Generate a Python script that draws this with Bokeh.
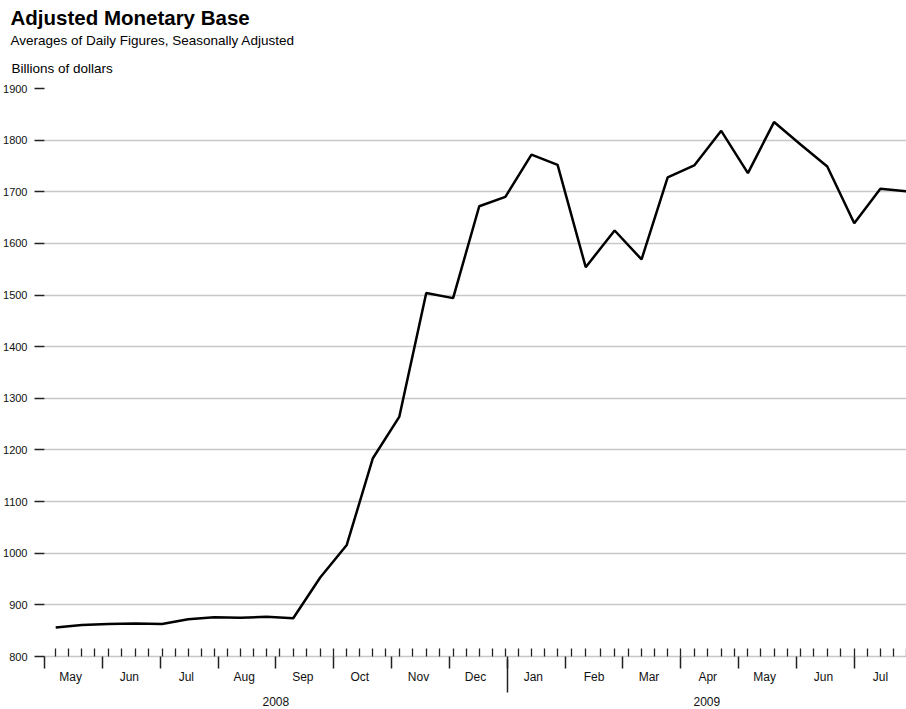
import calendar
import pandas as pd
from bokeh.plotting import figure
from bokeh.models import Range1d, FixedTicker, LinearAxis, Title
from bokeh.embed import file_html
from bokeh.resources import INLINE

# ---- data ----
dates = ["2008-05-07", "2008-05-21", "2008-06-04", "2008-06-18", "2008-07-02",
         "2008-07-16", "2008-07-30", "2008-08-13", "2008-08-27", "2008-09-10",
         "2008-09-24", "2008-10-08", "2008-10-22", "2008-11-05", "2008-11-19",
         "2008-12-03", "2008-12-17", "2008-12-31", "2009-01-14", "2009-01-28",
         "2009-02-11", "2009-02-25", "2009-03-11", "2009-03-25", "2009-04-08",
         "2009-04-22", "2009-05-06", "2009-05-20", "2009-06-03", "2009-06-17",
         "2009-07-01", "2009-07-15", "2009-07-29"]
values = [856, 861, 863, 864, 863,
          872, 876, 875, 877, 874,
          953, 1016, 1184, 1264, 1504,
          1494, 1672, 1690, 1772, 1752,
          1554, 1625, 1569, 1728, 1751,
          1818, 1736, 1835, 1792, 1749,
          1639, 1706, 1701]
y_ticks = [800, 900, 1000, 1100, 1200, 1300, 1400, 1500, 1600, 1700, 1800, 1900]
month_labels = ["May", "Jun", "Jul", "Aug", "Sep", "Oct", "Nov", "Dec",
                "Jan", "Feb", "Mar", "Apr", "May", "Jun", "Jul"]
year_labels = ["2008", "2009"]
range_start = "2008-05-01"
range_end = "2009-07-29"
year_start = "2009-01-01"
first_week_tick = "2008-05-07"

title = "Adjusted Monetary Base"
subtitle = "Averages of Daily Figures, Seasonally Adjusted"
units = "Billions of dollars"

FONT = "Liberation Sans"
origin = pd.Timestamp(range_start)


def mx(d):
    """Time axis in months: every calendar month gets the same width."""
    t = pd.Timestamp(d)
    n = calendar.monthrange(t.year, t.month)[1]
    return (t.year - origin.year) * 12 + (t.month - origin.month) + (t.day - 1) / n


x = [mx(d) for d in dates]
x_end = mx(range_end)
month_starts = pd.date_range(range_start, range_end, freq="MS")
month_bounds = [mx(d) for d in month_starts]
month_label_pos = [mx(d + pd.Timedelta(days=14)) for d in month_starts]
weekly = [mx(d) for d in pd.date_range(first_week_tick, range_end, freq="7D")]
y_edges = [0.0, mx(year_start), x_end]
year_mids = [(a + b) / 2 for a, b in zip(y_edges[:-1], y_edges[1:])]

p = figure(width=906, height=709, output_backend="svg", toolbar_location=None,
           x_range=Range1d(0, x_end), y_range=Range1d(800, 1900),
           x_axis_type=None, min_border_left=42, min_border_right=0,
           min_border_top=0, min_border_bottom=53)
p.outline_line_color = None
p.background_fill_color = "white"
p.border_fill_color = "white"

# y axis
ya = p.yaxis[0]
ya.ticker = FixedTicker(ticks=y_ticks)
ya.axis_line_color = None
ya.major_tick_out = 10
ya.major_tick_in = 0
ya.major_tick_line_color = "#222222"
ya.major_tick_line_width = 1.5
ya.minor_tick_line_color = None
ya.major_label_standoff = 7
ya.major_label_text_font = FONT
ya.major_label_text_font_size = "11px"
ya.major_label_text_color = "#111111"
p.ygrid.grid_line_color = "#c8c8c8"
p.ygrid.grid_line_width = 1.5

# x axis: tick marks (month boundaries down, weeks up)
axA = LinearAxis(ticker=FixedTicker(ticks=month_bounds, minor_ticks=weekly),
                 major_label_overrides={b: "" for b in month_bounds},
                 major_label_text_font_size="1px", major_label_standoff=0,
                 major_tick_out=12, major_tick_in=0,
                 minor_tick_in=8, minor_tick_out=0,
                 axis_line_color="#c8c8c8", axis_line_width=1.5,
                 major_tick_line_color="#222222", major_tick_line_width=1.5,
                 minor_tick_line_color="#222222", minor_tick_line_width=1.3)
# month labels
axB = LinearAxis(ticker=FixedTicker(ticks=month_label_pos),
                 major_label_overrides=dict(zip(month_label_pos, month_labels)),
                 major_tick_in=0, major_tick_out=0, major_tick_line_color=None,
                 minor_tick_in=0, minor_tick_out=0, minor_tick_line_color=None,
                 axis_line_color=None, major_label_standoff=1,
                 major_label_text_font=FONT, major_label_text_font_size="12px",
                 major_label_text_color="#111111")
# year labels + long year-boundary tick
axC = LinearAxis(ticker=FixedTicker(ticks=year_mids, minor_ticks=[mx(year_start)]),
                 major_label_overrides=dict(zip(year_mids, year_labels)),
                 major_tick_in=0, major_tick_out=0, major_tick_line_color=None,
                 minor_tick_in=27, minor_tick_out=6,
                 minor_tick_line_color="#222222", minor_tick_line_width=1.5,
                 axis_line_color=None, major_label_standoff=4,
                 major_label_text_font=FONT, major_label_text_font_size="12px",
                 major_label_text_color="#111111")
p.add_layout(axA, "below")
p.add_layout(axB, "below")
p.add_layout(axC, "below")

p.line(x, values, line_color="black", line_width=2.5)

# titles: first added sits nearest the frame
p.add_layout(Title(text=units, align="left", offset=-33, standoff=22,
                   vertical_align="top", text_font=FONT, text_font_size="13.5px",
                   text_font_style="normal", text_color="black"), "above")
p.add_layout(Title(text=subtitle, align="left", offset=-34, standoff=0,
                   vertical_align="top", text_font=FONT, text_font_size="13.5px",
                   text_font_style="normal", text_color="black"), "above")
p.add_layout(Title(text=title, align="left", offset=-34, standoff=7,
                   vertical_align="bottom", text_font=FONT, text_font_size="20.5px",
                   text_font_style="bold", text_color="black"), "above")

open("out.html", "w").write(file_html(p, INLINE))
